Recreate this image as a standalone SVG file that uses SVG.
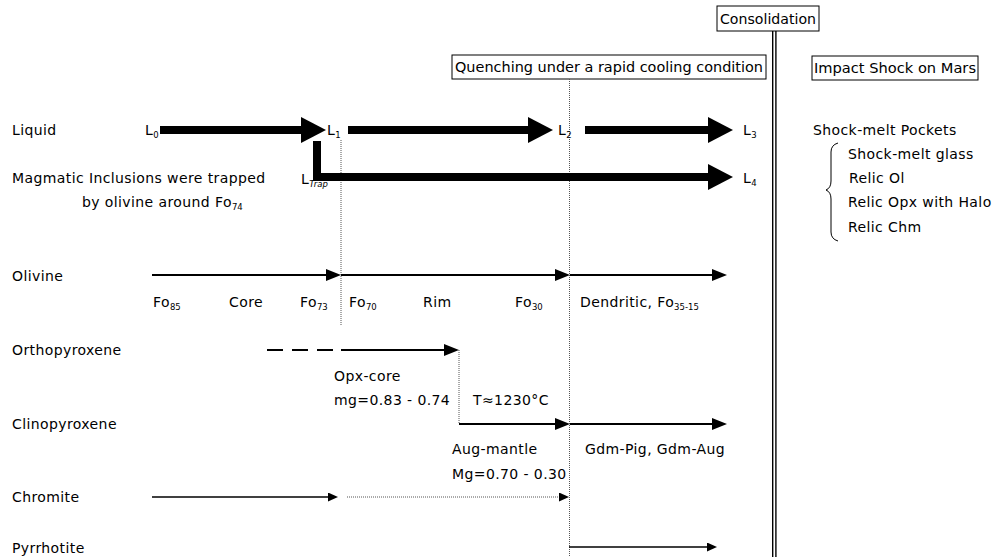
<svg xmlns="http://www.w3.org/2000/svg" width="1000" height="557" viewBox="0 0 1000 557">
<style>
text{font-family:"DejaVu Sans","Liberation Sans",sans-serif;font-size:14px;letter-spacing:0.4px;fill:#000}
text.bt{letter-spacing:0}
.sub{font-size:8.5px;letter-spacing:0}
.box{fill:#fff;stroke:#000;stroke-width:1}
.thick{fill:none;stroke:#000;stroke-width:8;stroke-linejoin:miter}
.thin{fill:none;stroke:#000;stroke-width:2}
.fine{fill:none;stroke:#000;stroke-width:1.4}
.dot{fill:none;stroke:#555;stroke-width:1;stroke-dasharray:1 1}
.dbl{fill:none;stroke:#000;stroke-width:1.4}
</style>
<defs>
<marker id="big" markerUnits="userSpaceOnUse" viewBox="0 0 25 26" refX="0" refY="13" markerWidth="25" markerHeight="26" orient="auto"><path d="M0,0 L25,13 L0,26 z" fill="#000"/></marker>
<marker id="mid" markerUnits="userSpaceOnUse" viewBox="0 0 15 12" refX="0" refY="6" markerWidth="15" markerHeight="12" orient="auto"><path d="M0,0 L15,6 L0,12 z" fill="#000"/></marker>
<marker id="small" markerUnits="userSpaceOnUse" viewBox="0 0 10 9" refX="0" refY="4.5" markerWidth="10" markerHeight="9" orient="auto"><path d="M0,0 L10,4.5 L0,9 z" fill="#000"/></marker>
</defs>

<g id="consolidation">
<rect class="box" x="717" y="6" width="102" height="25"/>
<text class="bt" x="720" y="24" textLength="96" lengthAdjust="spacingAndGlyphs">Consolidation</text>
</g>
<g id="quenching">
<rect class="box" x="452" y="55" width="314" height="24"/>
<text class="bt" x="455" y="72" textLength="308" lengthAdjust="spacingAndGlyphs">Quenching under a rapid cooling condition</text>
</g>
<g id="impact">
<rect class="box" x="812" y="56" width="166" height="24"/>
<text class="bt" x="814" y="73" textLength="162" lengthAdjust="spacingAndGlyphs">Impact Shock on Mars</text>
</g>

<g id="connectors">
<line class="dbl" x1="772.7" y1="31" x2="772.7" y2="557"/>
<line class="dbl" x1="775.9" y1="31" x2="775.9" y2="557"/>
<line class="dot" x1="341" y1="140" x2="341" y2="325"/>
<line class="dot" x1="569.5" y1="79" x2="569.5" y2="557"/>
<line class="dot" x1="459" y1="350" x2="459" y2="424"/>

<line class="thick" x1="160" y1="130" x2="301" y2="130" marker-end="url(#big)"/>
<line class="thick" x1="348" y1="130" x2="528" y2="130" marker-end="url(#big)"/>
<line class="thick" x1="585" y1="130" x2="708" y2="130" marker-end="url(#big)"/>
<path class="thick" d="M317,141 L317,177 L708,177" marker-end="url(#big)"/>

<line class="thin" x1="152" y1="275" x2="326" y2="275" marker-end="url(#mid)"/>
<line class="thin" x1="341" y1="275" x2="555" y2="275" marker-end="url(#mid)"/>
<line class="thin" x1="570" y1="275" x2="712" y2="275" marker-end="url(#mid)"/>

<line class="thin" x1="267" y1="350" x2="341" y2="350" stroke-dasharray="16 9"/>
<line class="thin" x1="341" y1="350" x2="444" y2="350" marker-end="url(#mid)"/>
<line class="thin" x1="459" y1="424" x2="555" y2="424" marker-end="url(#mid)"/>
<line class="thin" x1="570" y1="424" x2="712" y2="424" marker-end="url(#mid)"/>

<line class="fine" x1="152" y1="497" x2="328" y2="497" marker-end="url(#small)"/>
<line class="dot" x1="347" y1="497" x2="559" y2="497" marker-end="url(#small)"/>
<line class="fine" x1="569" y1="547" x2="707" y2="547" marker-end="url(#small)"/>
</g>

<g id="liquid">
<text x="12" y="135">Liquid</text>
<text x="145" y="135">L<tspan class="sub" dy="3">0</tspan></text>
<text x="327" y="135">L<tspan class="sub" dy="3">1</tspan></text>
<text x="558" y="135">L<tspan class="sub" dy="3">2</tspan></text>
<text x="743" y="135">L<tspan class="sub" dy="3">3</tspan></text>
</g>
<g id="inclusions">
<text x="12" y="183">Magmatic Inclusions were trapped</text>
<text x="82" y="207">by olivine around Fo<tspan class="sub" dy="3">74</tspan></text>
<text x="301" y="184">L<tspan class="sub" dy="3" font-style="italic">Trap</tspan></text>
<text x="743" y="183">L<tspan class="sub" dy="3">4</tspan></text>
</g>
<g id="olivine">
<text x="12" y="281">Olivine</text>
<text x="153" y="307">Fo<tspan class="sub" dy="3">85</tspan></text>
<text x="229" y="307">Core</text>
<text x="300" y="307">Fo<tspan class="sub" dy="3">73</tspan></text>
<text x="349" y="307">Fo<tspan class="sub" dy="3">70</tspan></text>
<text x="423" y="307">Rim</text>
<text x="515" y="307">Fo<tspan class="sub" dy="3">30</tspan></text>
<text x="580" y="307">Dendritic, Fo<tspan class="sub" dy="3">35-15</tspan></text>
</g>
<g id="orthopyroxene">
<text x="12" y="355">Orthopyroxene</text>
<text x="334" y="381">Opx-core</text>
<text x="334" y="405">mg=0.83 - 0.74</text>
<text x="473" y="405">T≈1230°C</text>
</g>
<g id="clinopyroxene">
<text x="12" y="429">Clinopyroxene</text>
<text x="452" y="454">Aug-mantle</text>
<text x="452" y="479">Mg=0.70 - 0.30</text>
<text x="585" y="454">Gdm-Pig, Gdm-Aug</text>
</g>
<g id="chromite">
<text x="12" y="502">Chromite</text>
</g>
<g id="pyrrhotite">
<text x="12" y="553">Pyrrhotite</text>
</g>
<g id="shock">
<text x="813" y="135">Shock-melt Pockets</text>
<path d="M838,143 Q831,145 831,152 L831,181 Q831,188 826,190 Q831,192 831,199 L831,232 Q831,239 838,241" fill="none" stroke="#000" stroke-width="1"/>
<text x="848" y="159">Shock-melt glass</text>
<text x="849" y="183">Relic Ol</text>
<text x="848" y="207">Relic Opx with Halo</text>
<text x="848" y="232">Relic Chm</text>
</g>
</svg>
